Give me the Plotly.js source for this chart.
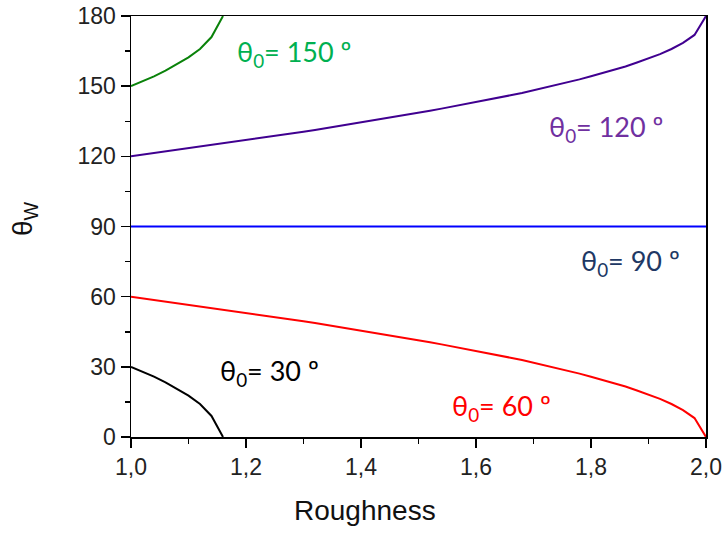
<!DOCTYPE html>
<html>
<head>
<meta charset="utf-8">
<script src="https://cdn.plot.ly/plotly-3.0.1.min.js"></script>
<style>html,body{margin:0;padding:0;background:#fff;}#chart{width:726px;height:534px;}</style>
</head>
<body>
<div id="chart"></div>
<script>
// Roughness values (x)
const roughness = [1.00,1.02,1.04,1.06,1.08,1.10,1.12,1.14,1.16,1.18,1.20,1.22,1.24,1.26,1.28,1.30,1.32,1.34,1.36,1.38,1.40,1.42,1.44,1.46,1.48,1.50,1.52,1.54,1.56,1.58,1.60,1.62,1.64,1.66,1.68,1.70,1.72,1.74,1.76,1.78,1.80,1.82,1.84,1.86,1.88,1.90,1.92,1.94,1.96,1.98,2.00];
const roughnessShort = [1.00,1.02,1.04,1.06,1.08,1.10,1.12,1.14,1.16];
const roughnessFlat = [1.00,2.00];

// Apparent contact angle series (θW)
const theta30 = [30.0,28.0,25.8,23.4,20.7,17.7,14.1,9.0,0];
const theta150 = [150.0,152.0,154.2,156.6,159.3,162.3,165.9,171.0,180];
const theta90 = [90,90];
const theta60 = [60.0,59.3,58.7,58.0,57.3,56.6,55.9,55.3,54.5,53.8,53.1,52.4,51.7,51.0,50.2,49.5,48.7,47.9,47.2,46.4,45.6,44.8,43.9,43.1,42.3,41.4,40.5,39.6,38.7,37.8,36.9,35.9,34.9,33.9,32.9,31.8,30.7,29.5,28.4,27.1,25.8,24.5,23.1,21.6,19.9,18.2,16.3,14.1,11.5,8.1,0];
const theta120 = [120.0,120.7,121.3,122.0,122.7,123.4,124.1,124.7,125.5,126.2,126.9,127.6,128.3,129.0,129.8,130.5,131.3,132.1,132.8,133.6,134.4,135.2,136.1,136.9,137.7,138.6,139.5,140.4,141.3,142.2,143.1,144.1,145.1,146.1,147.1,148.2,149.3,150.5,151.6,152.9,154.2,155.5,156.9,158.4,160.1,161.8,163.7,165.9,168.5,171.9,180];

// Tick labels
const xTickVals = [1.0,1.2,1.4,1.6,1.8,2.0];
const xTickText = ['1,0','1,2','1,4','1,6','1,8','2,0'];
const yTickVals = [0,30,60,90,120,150,180];
const yTickText = ['0','30','60','90','120','150','180'];

// Curve labels
const labelText = ['θ<sub>0</sub>= 150 º','θ<sub>0</sub>= 120 º','θ<sub>0</sub>= 90 º','θ<sub>0</sub>= 60 º','θ<sub>0</sub>= 30 º'];

const lw = 2;
const traces = [
  {x: roughnessShort, y: theta30, mode:'lines', line:{color:'#000000', width:lw}},
  {x: roughnessShort, y: theta150, mode:'lines', line:{color:'#0a820a', width:lw}},
  {x: roughnessFlat, y: theta90, mode:'lines', line:{color:'#0000ff', width:lw}},
  {x: roughness, y: theta60, mode:'lines', line:{color:'#ff0000', width:lw}},
  {x: roughness, y: theta120, mode:'lines', line:{color:'#400090', width:lw}}
];

const labFont = {family:'Lato, "Open Sans", sans-serif', size:27};
function lab(i, x, y, color){
  return {text:labelText[i], x:x, y:y, xref:'x', yref:'y', xanchor:'left', yanchor:'middle', showarrow:false, font:Object.assign({}, labFont, {color:color})};
}

const layout = {
  width:726, height:534,
  margin:{l:131, r:20, t:16, b:97, pad:0},
  paper_bgcolor:'#ffffff', plot_bgcolor:'#ffffff',
  showlegend:false,
  font:{family:'"Liberation Sans", Arial, sans-serif', size:23, color:'#222'},
  xaxis:{
    range:[1.0,2.0], tickvals:xTickVals, ticktext:xTickText,
    ticks:'outside', ticklen:9, tickwidth:1.5, tickcolor:'#000',
    showline:true, linecolor:'#000', linewidth:1.5, mirror:true,
    showgrid:false, zeroline:false,
    minor:{dtick:0.1, ticks:'outside', ticklen:5, tickwidth:1.5, tickcolor:'#000'},
    tickfont:{size:23, color:'#222'}
  },
  yaxis:{
    range:[0,180], tickvals:yTickVals, ticktext:yTickText,
    ticks:'outside', ticklen:9, tickwidth:1.5, tickcolor:'#000',
    showline:true, linecolor:'#000', linewidth:1.5, mirror:true,
    showgrid:false, zeroline:false,
    minor:{dtick:15, ticks:'outside', ticklen:5, tickwidth:1.5, tickcolor:'#000'},
    tickfont:{size:23, color:'#222'}
  },
  annotations:[
    lab(0, 1.180, 164.0, '#00b050'),
    lab(1, 1.723, 132.0, '#7030a0'),
    lab(2, 1.779, 74.7, '#203864'),
    lab(3, 1.554, 12.7, '#ff0000'),
    lab(4, 1.151, 27.6, '#000000'),
    {text:'Roughness', xref:'paper', yref:'paper', x:(365-131)/575, y:(437-511)/421, xanchor:'center', yanchor:'middle', showarrow:false, font:{family:'"Liberation Sans", Arial, sans-serif', size:28, color:'#111'}},
    {text:'θ<sub>W</sub>', xref:'paper', yref:'paper', x:(24-131)/575, y:(437-219)/421, xanchor:'center', yanchor:'middle', textangle:-90, showarrow:false, font:{family:'"Liberation Sans", Arial, sans-serif', size:28, color:'#111'}}
  ]
};

Plotly.newPlot('chart', traces, layout, {displayModeBar:false, staticPlot:true});
</script>
</body>
</html>
